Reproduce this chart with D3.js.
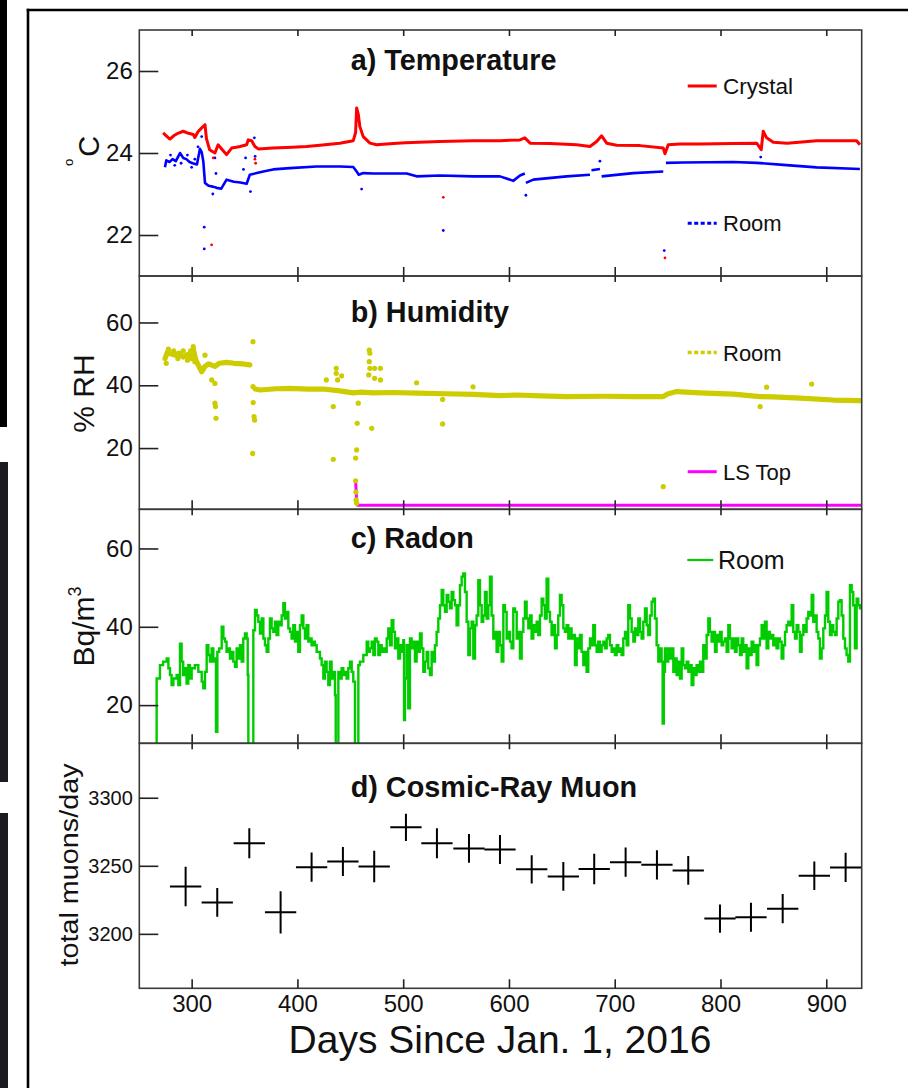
<!DOCTYPE html>
<html><head><meta charset="utf-8">
<script src="https://cdn.jsdelivr.net/npm/d3@7"></script>
<style>body{margin:0;background:#fff}svg{display:block}text{font-family:"Liberation Sans",Arial,Helvetica,sans-serif}</style>
</head><body>
<script>
// ---------------- data ----------------
const xTickValues = [300,400,500,600,700,800,900];
const tempTicks = [22,24,26];
const humTicks = [20,40,60];
const radonTicks = [20,40,60];
const muonTicks = [3200,3250,3300];

const crystalDay = [273,276,279.5,283,287,292,297,301.5,303,306,309,312.6,314,317,320,322,325,329,333,337.8,342,345.7,352,353.5,356.7,359.8,363,377,395,408.7,421.3,440,452.8,455,456,457.5,459,462.2,468.6,475,490.6,502,534.7,566,591.5,610.4,615,620,638.7,664,676.6,682.9,687.6,692.4,701.8,723.9,745.9,747.5,750.6,761.7,780.6,812,834.2,838.5,840.4,843.6,849.9,863,890.9,928.7,931.8];
const crystalTemp = [24.49,24.42,24.34,24.42,24.48,24.53,24.48,24.45,24.38,24.52,24.6,24.69,24.35,24.08,24.03,24.0,24.2,24.08,23.96,24.12,24.14,24.16,24.2,24.32,24.3,24.16,24.1,24.12,24.14,24.16,24.19,24.24,24.3,24.5,25.1,24.95,24.65,24.4,24.24,24.2,24.23,24.25,24.28,24.3,24.3,24.32,24.37,24.24,24.23,24.2,24.16,24.28,24.42,24.24,24.19,24.18,24.12,23.98,24.2,24.22,24.22,24.23,24.24,24.08,24.53,24.37,24.26,24.24,24.3,24.3,24.2];
const crystalOutDay = [318.9,320.4,359.8,360.5,537.9,747.5];
const crystalOutTemp = [21.76,23.88,23.85,23.75,22.92,21.44];

// NaN marks a gap in the record
const roomTDay = [274.8,276,279,282,285,287,289,292,295,298,301,305,307.8,309.5,311,312.6,316,320,323.6,328,333,340,346,352,355,361.5,367.8,377,392.9,418,440.2,452.8,456,458,462.2,471.7,503.3,512.7,534.7,566,591.5,601,604,610.4,615,615.5,616,623,654.5,676.6,677,678,686,687,687.6,717.5,745.9,747,748.4,764.8,812,834.2,859.3,890.9,931.8];
const roomTemp = [23.65,23.82,23.78,23.85,23.8,23.9,24.0,23.88,23.85,23.78,23.75,23.72,24.1,24.02,23.8,23.27,23.2,23.18,23.15,23.13,23.35,23.3,23.28,23.25,23.47,23.51,23.55,23.6,23.63,23.67,23.67,23.66,23.55,23.47,23.51,23.5,23.5,23.43,23.45,23.43,23.43,23.35,23.32,23.45,23.5,NaN,23.27,23.35,23.43,23.47,NaN,23.58,23.61,NaN,23.43,23.51,23.55,NaN,23.76,23.77,23.78,23.76,23.71,23.65,23.61];
const roomTOutDay = [280,284,290,296,300,303,306,311.9,311.9,309.5,320,322,323,349,351,355.6,359.3,360,460.7,537.9,616,686,746.8,838];
const roomTOutTemp = [23.95,23.7,23.75,23.95,23.65,23.85,24.15,22.19,21.66,24.4,23.0,23.88,23.5,23.6,23.88,23.06,24.37,23.92,23.12,22.11,22.97,23.8,21.62,23.9];

const humDay = [274.8,277,280,284,288,292,296,300,301.5,304,306,309.5,312.6,316,322,326,333,340,348,355,357,360,364.6,380,392.9,410,424.4,440,452.8,460,471.7,490,512.7,540,566.2,591.5,607.2,630,654.5,690,717.5,745.9,750,758.5,780.6,812,837.3,850,875.2,906.6,931.8];
const humRoom = [48.5,50.5,50.0,49.6,50.2,49.0,49.8,48.5,51.5,48.0,46.6,44.3,46.0,46.8,46.0,47.0,47.3,47.0,46.8,46.5,NaN,38.8,38.5,38.9,39.0,38.8,38.8,38.2,37.6,37.8,37.6,37.7,37.5,37.3,37.1,36.7,36.9,36.6,36.4,36.5,36.4,36.4,37.2,38.0,37.6,37.2,36.4,36.3,35.9,35.3,35.1];
const humOutDay = [276,278,283,287,292,296,299,303,301.5,312.6,319,322,322,322.5,323,358,358,358.2,359,359.5,357.7,427.3,433.9,433.9,436.7,436.7,438,441.8,457.5,456.5,456,455,455,455.3,455.5,456,467.9,468.5,467.9,468.5,467.5,473,478.5,473,478.5,470.2,512.7,537.3,537.3,566,837.5,843.6,886.2,745.9];
const humOutVal = [47,51.5,51,48.5,51,48,51,47.5,52.3,49.6,41.7,40.6,34.3,33.2,29.5,53.9,39.6,34.5,30,28.9,18.3,41.7,33.2,16.4,45.4,43.8,41.7,43.0,34.3,27.9,19.4,16.8,9.6,6,3.5,2.4,51.2,50.2,47.5,45.4,43.3,45.4,45.4,42.2,41.7,26.3,40.8,35.5,27.7,39.5,33.2,39.4,40.4,7.7];
const lsTopDay = [455,456,457,600,750,933.5];
const lsTopVal = [9.6,3,1.8,1.8,1.8,1.8];

const radonDay = [266.5,266.9,270,273,276.4,278,279.5,281,282.7,285.8,287.4,289,290.5,292,293.7,295.2,296.8,298.4,300,303,306.3,309.5,311,312.6,314.2,315.8,317.3,318.9,320.5,322,323,324.3,326,328.4,330,331.5,333,334.6,336.2,337.8,339.4,341,342.5,344.1,345.7,347.3,348.8,350.4,352,353,353.6,358.3,359.9,361.5,363,364.6,366.2,367.8,369.3,370.9,372.5,374,375.6,377.2,378.8,380.3,381.9,383.5,385.1,386.7,388.2,389.8,391.4,393,394.5,396.1,397.7,399.3,400.8,402.4,404,405.6,407.1,408.7,410.3,411.9,413.4,415,416.6,418.2,421.3,422.9,424.5,426,427.6,429.2,430.8,432.3,433.9,435.5,436.2,438.7,440.2,441.8,443.4,445,446.5,448.1,449.7,451.3,452.8,454.4,457.6,459.1,462.3,465.5,467,468.6,470.2,471.8,473.3,474.9,476.5,478.1,479.7,481.2,482.8,484.4,485.9,487.5,489.1,490.7,492.2,493.8,495.4,497,498.5,500.1,500.8,501.7,503.3,504.8,506.4,508,509.6,511.1,512.7,514.3,515.9,517.4,519,520.6,522.2,523.7,525.3,526.9,528.5,530,531.6,533.2,534.8,536.4,537.9,539.5,541.1,542.7,544.2,545.8,547.4,549,550.5,552.1,553.7,555.3,556.8,558.4,560,561.6,563.1,564.7,566.3,567.9,569.4,571,572.6,574.2,575.7,577.3,578.9,580.5,582,583.6,585.2,586.8,588.3,589.9,591.5,593.1,594.7,596.2,597.8,599.4,601,602.5,604.1,605.7,607.3,608.8,610.4,612,613.6,615.1,616.7,618.3,619.9,621.4,623,624.6,626.2,627.7,629.3,630.9,632.5,634,635.6,637.2,638.8,640.3,641.9,643.5,645.1,646.6,648.2,649.8,651.4,652.9,654.5,656.1,657.7,659.2,660.8,662.4,664,665.5,667.1,668.7,670.3,671.8,673.4,675,676.6,678.1,679.7,681.3,682.9,684.4,686,687.6,689.2,690.8,692.4,693.9,695.5,697.1,698.7,700.2,701.8,703.4,705,706.5,708.1,709.7,711.3,712.8,714.4,716,717.6,719.1,720.7,722.3,723.9,725.4,727,728.6,730.2,731.7,733.3,734.9,736.5,738,739.6,741.2,742.8,744.3,745.3,746.4,747.5,749,750.6,752.2,753.8,755.4,757,758.5,760.1,761.7,763.3,764.8,766.4,768,769.6,771.1,772.7,774.3,775.9,777.4,779,780.6,782.2,783.7,785.3,786.9,788.5,790,791.6,793.2,794.8,796.3,797.9,799.5,801.1,802.6,804.2,805.8,807.4,808.9,810.5,812.1,813.7,815.2,816.8,818.4,820,821.5,823.1,824.7,826.3,827.8,829.4,831,832.6,834.1,835.7,837.3,838.9,840.4,842,843.6,845.2,846.7,848.3,849.9,851.5,853,854.7,856.2,857.8,859.4,861,862.5,864.1,865.7,867.3,868.8,870.4,872,873.6,875.1,876.7,878.3,879.9,881.4,883,884.6,886.2,887.7,889.3,890.9,892.5,894,895.6,897.2,898.8,900.3,901.9,903.5,905.1,906.6,908.2,909.8,911.4,912.9,914.5,916.1,917.7,919.2,920.8,922.4,924,925.5,927.1,928.7,930.3,931.8,933.5];
const radonRoom = [5,26.8,30.2,31.1,31.9,29.4,27.7,25.1,26.8,27.7,25.1,35.7,31.1,27.7,29.4,25.5,30.2,26.8,29.4,30.2,28.5,26.0,24.3,28.5,35.3,32.8,31.1,34.5,31.1,31.9,13.2,33.6,34.5,40.0,37.0,36.2,33.6,34.5,31.9,33.6,31.1,29.8,34.5,31.9,35.3,31.1,37.0,38.3,37.0,27.7,5,39.1,44.3,42.9,41.3,38.3,42.1,37.0,35.3,33.6,37.0,42.1,39.6,38.7,41.3,37.9,41.3,40.4,42.9,46.0,42.1,43.8,39.6,38.7,37.0,40.4,36.2,38.7,33.6,40.4,42.9,39.6,37.0,40.4,36.2,37.0,35.3,36.2,35.3,33.6,31.9,30.2,26.8,31.1,28.5,25.1,31.1,26.8,28.5,22.6,5,28.5,26.8,29.4,27.7,28.5,26.8,29.4,31.1,28.5,26.0,5,30.2,31.1,32.8,36.2,33.6,34.5,36.2,32.8,37.0,36.2,32.8,35.3,33.6,34.5,33.6,37.0,39.6,35.3,41.7,38.7,34.5,37.0,31.9,35.3,33.6,36.6,16.2,26.8,35.3,19.2,37.0,34.5,36.2,31.1,36.2,33.6,38.3,34.5,28.5,31.1,33.6,29.4,27.7,33.6,31.1,35.3,38.7,42.1,45.5,49.4,45.5,43.8,48.1,46.4,44.7,48.9,46.8,45.5,40.4,45.5,50.6,52.8,53.6,48.9,41.3,32.8,39.6,41.3,31.9,40.4,42.9,51.9,45.5,41.3,42.9,48.9,42.1,45.5,52.8,42.9,37.0,38.7,33.6,38.7,35.3,31.1,45.5,43.8,37.0,38.7,36.2,34.5,44.7,43.8,37.0,38.7,31.9,38.7,42.1,46.4,42.1,39.6,42.9,37.0,40.4,38.7,41.3,37.9,42.9,47.2,45.5,42.1,52.3,43.8,41.3,37.9,40.4,34.5,37.9,42.9,48.1,45.5,39.6,38.7,40.4,37.0,39.6,37.0,37.9,30.2,37.0,34.5,37.9,33.6,30.2,33.6,28.5,34.5,37.0,35.3,40.4,35.3,33.6,36.2,33.6,35.3,36.2,34.5,37.0,37.9,35.3,33.6,34.5,32.8,35.3,33.6,34.5,32.8,37.0,38.7,35.3,45.5,42.1,38.7,36.2,39.6,37.9,42.1,38.7,37.0,41.3,44.7,40.4,37.9,42.9,46.4,47.2,42.1,35.3,31.1,34.5,31.1,15.3,28.5,34.5,31.1,34.5,31.9,34.5,28.5,31.9,27.7,31.1,26.8,34.5,30.2,29.4,31.1,28.5,30.2,25.1,29.4,27.7,30.2,28.5,31.1,28.5,35.3,31.9,37.9,42.1,38.7,36.2,38.7,33.6,37.9,36.2,38.7,35.3,36.2,37.0,33.6,40.4,37.0,34.5,37.0,33.6,37.0,35.3,32.8,37.0,33.6,35.3,29.4,34.5,32.8,36.2,33.6,35.3,30.2,35.3,37.0,40.4,37.0,41.3,34.5,38.7,37.0,37.9,35.3,37.0,34.5,37.0,36.2,31.9,35.3,38.7,40.4,41.3,40.4,45.5,38.7,37.0,40.4,38.7,33.6,37.9,40.4,38.7,42.1,43.8,42.9,48.1,41.3,42.9,38.7,37.0,31.9,34.5,39.6,42.9,48.9,41.3,37.9,40.4,38.7,37.9,42.1,46.4,46.8,42.9,37.0,34.5,32.8,31.1,50.6,48.9,45.5,34.5,47.2,45.5,44.7,44.7];

const muonDay = [294.3,324.2,354.5,384.1,413.4,443.0,472.6,502.6,531.9,562.2,591.5,621.5,651.4,680.6,710.3,739.9,769.5,799.5,828.8,858.8,888.7,918.3];
const muonRate = [3234.8,3223.1,3266.6,3215.8,3249.0,3253.2,3249.5,3278.3,3266.6,3262.8,3262.0,3247.4,3242.2,3247.7,3252.7,3250.7,3246.6,3211.2,3212.2,3218.5,3242.7,3248.8];
const muonErr = [14.5,10.6,11,15.5,10.7,10.7,11.6,10,11,10.5,10.6,10.4,10.6,11.2,10.7,10.7,10.6,10.4,10.6,10.7,10.5,10.7];
const muonBinHalf = 14.8;

// ---------------- drawing ----------------
const W = 908, H = 1088;
const L = 139.3, R = 861.7;
const svg = d3.select("body").append("svg").attr("width", W).attr("height", H);
svg.append("rect").attr("width", W).attr("height", H).attr("fill", "#fff");

// page decorations
svg.append("rect").attr("x",0).attr("y",0).attr("width",7).attr("height",427).attr("fill","#000");
svg.append("rect").attr("x",0).attr("y",462).attr("width",8).attr("height",320).attr("fill","#1c1c20");
svg.append("rect").attr("x",0).attr("y",813).attr("width",8).attr("height",275).attr("fill","#1c1c20");
svg.append("line").attr("x1",28).attr("x2",28).attr("y1",8.8).attr("y2",H).attr("stroke","#000").attr("stroke-width",2.6);
svg.append("line").attr("x1",26.7).attr("x2",W).attr("y1",10).attr("y2",10).attr("stroke","#000").attr("stroke-width",2.6);

const x = d3.scaleLinear().domain([250.5, 933.5]).range([L, R]);
const panels = [
  {t:30, b:276, y:d3.scaleLinear().domain([21,27]).range([276,30]), ticks:tempTicks, fs:24},
  {t:276, b:509.3, y:d3.scaleLinear().domain([0.5,74.8]).range([509.3,276]), ticks:humTicks, fs:24},
  {t:509.3, b:743.3, y:d3.scaleLinear().domain([10.25,70]).range([743.3,509.3]), ticks:radonTicks, fs:24},
  {t:743.3, b:988.3, y:d3.scaleLinear().domain([3160,3340]).range([988.3,743.3]), ticks:muonTicks, fs:20}
];
const defs = svg.append("defs");
panels.forEach((p,i)=>{
  defs.append("clipPath").attr("id","clip"+i).append("rect")
    .attr("x",L).attr("y",p.t).attr("width",R-L).attr("height",p.b-p.t);
  p.g = svg.append("g").attr("clip-path",`url(#clip${i})`);
});

const pairs = (a,b) => a.map((d,i)=>[d,b[i]]);

// a) temperature
{
  const p = panels[0];
  const line = d3.line().defined(d=>!isNaN(d[1])).x(d=>x(d[0])).y(d=>p.y(d[1]));
  p.g.append("path").attr("d", line(pairs(roomTDay, roomTemp))).attr("fill","none").attr("stroke","#0000ff").attr("stroke-width",2.6).attr("stroke-linejoin","round");
  p.g.selectAll(".rto").data(pairs(roomTOutDay, roomTOutTemp)).join("circle")
    .attr("cx",d=>x(d[0])).attr("cy",d=>p.y(d[1])).attr("r",1.4).attr("fill","#0000ff");
  p.g.append("path").attr("d", line(pairs(crystalDay, crystalTemp))).attr("fill","none").attr("stroke","#ff0000").attr("stroke-width",3).attr("stroke-linejoin","round");
  p.g.selectAll(".cto").data(pairs(crystalOutDay, crystalOutTemp)).join("circle")
    .attr("cx",d=>x(d[0])).attr("cy",d=>p.y(d[1])).attr("r",1.4).attr("fill","#ff0000");
}
// b) humidity
{
  const p = panels[1];
  const line = d3.line().defined(d=>!isNaN(d[1])).x(d=>x(d[0])).y(d=>p.y(d[1]));
  p.g.append("path").attr("d", line(pairs(lsTopDay, lsTopVal))).attr("fill","none").attr("stroke","#ff00ff").attr("stroke-width",3);
  p.g.append("path").attr("d", line(pairs(humDay, humRoom))).attr("fill","none").attr("stroke","#cccc00").attr("stroke-width",5.2).attr("stroke-linejoin","round").attr("stroke-linecap","round");
  p.g.selectAll(".ho").data(pairs(humOutDay, humOutVal)).join("circle")
    .attr("cx",d=>x(d[0])).attr("cy",d=>p.y(d[1])).attr("r",2.6).attr("fill","#cccc00");
}
// c) radon
{
  const p = panels[2];
  const line = d3.line().curve(d3.curveStepAfter).x(d=>x(d[0])).y(d=>p.y(d[1]));
  p.g.append("path").attr("d", line(pairs(radonDay, radonRoom))).attr("fill","none").attr("stroke","#00cc00").attr("stroke-width",2.4);
}
// d) muons
{
  const p = panels[3];
  const data = muonDay.map((d,i)=>({d, v:muonRate[i], e:muonErr[i]}));
  const gg = p.g.selectAll(".mu").data(data).join("g");
  gg.append("line").attr("x1",d=>x(d.d-muonBinHalf)).attr("x2",d=>x(d.d+muonBinHalf))
    .attr("y1",d=>p.y(d.v)).attr("y2",d=>p.y(d.v)).attr("stroke","#000").attr("stroke-width",2);
  gg.append("line").attr("x1",d=>x(d.d)).attr("x2",d=>x(d.d))
    .attr("y1",d=>p.y(d.v-d.e)).attr("y2",d=>p.y(d.v+d.e)).attr("stroke","#000").attr("stroke-width",2);
}

// axes and frames
panels.forEach((p,i)=>{
  svg.append("rect").attr("x",L).attr("y",p.t).attr("width",R-L).attr("height",p.b-p.t)
    .attr("fill","none").attr("stroke","#3a3a3a").attr("stroke-width",1.6);
  const ya = svg.append("g").attr("transform",`translate(${L},0)`)
    .call(d3.axisLeft(p.y).tickValues(p.ticks).tickSize(-19).tickPadding(6.5).tickFormat(d3.format("d")));
  ya.select(".domain").remove();
  ya.selectAll("line").attr("stroke","#222").attr("stroke-width",1.6);
  ya.selectAll("text").attr("font-size",p.fs).attr("fill","#111").attr("font-family",null);
  const xb = svg.append("g").attr("transform",`translate(0,${p.b})`)
    .call(d3.axisBottom(x).tickValues(xTickValues).tickSize(-9).tickPadding(6.7).tickFormat(i===3?d3.format("d"):()=>""));
  xb.select(".domain").remove();
  xb.selectAll("line").attr("stroke","#222").attr("stroke-width",1.6);
  xb.selectAll("text").attr("font-size",24).attr("fill","#111").attr("font-family",null);
  const xt = svg.append("g").attr("transform",`translate(0,${p.t})`)
    .call(d3.axisTop(x).tickValues(xTickValues).tickSize(-6).tickFormat(()=>""));
  xt.select(".domain").remove();
  xt.selectAll("line").attr("stroke","#222").attr("stroke-width",1.6);
});

// titles
const titles = [["a) Temperature",70],["b) Humidity",321.7],["c) Radon",547.7],["d) Cosmic-Ray Muon",797.3]];
titles.forEach(([t,yb])=>svg.append("text").attr("x",350.7).attr("y",yb).attr("font-size",28.8).attr("font-weight","bold").attr("fill","#111").text(t));

// legends
function legLine(x1,x2,y,color,w,dash){
  const l = svg.append("line").attr("x1",x1).attr("x2",x2).attr("y1",y).attr("y2",y).attr("stroke",color).attr("stroke-width",w);
  if(dash) l.attr("stroke-dasharray",dash);
}
function legText(xx,yb,t,fs){ svg.append("text").attr("x",xx).attr("y",yb).attr("font-size",fs).attr("fill","#111").text(t); }
legLine(687.7,716.7,86,"#ff0000",3);
legText(723,94,"Crystal",22.5);
legLine(687.7,716.7,223.3,"#0000ff",3,"4,2.5");
legText(723,231.2,"Room",22);
legLine(687.7,716.7,352.5,"#cccc00",3.5,"4,2.5");
legText(723,360.5,"Room",22);
legLine(687.7,716.7,471.7,"#ff00ff",3);
legText(723,479.6,"LS Top",22);
legLine(687.3,713.3,560,"#00cc00",2.2);
legText(718,569,"Room",25);

// y-axis titles
{
  const t = svg.append("text").attr("transform","translate(99,166) rotate(-90)").attr("fill","#111");
  t.append("tspan").attr("font-size",13).attr("dy",-26).text("o");
  t.append("tspan").attr("font-size",29).attr("dy",26).attr("dx",2).text("C");
}
svg.append("text").attr("transform","translate(94,393.5) rotate(-90)").attr("text-anchor","middle").attr("font-size",30).attr("fill","#111").text("% RH");
{
  const t = svg.append("text").attr("transform","translate(94,626.5) rotate(-90)").attr("text-anchor","middle").attr("fill","#111").attr("font-size",30);
  t.append("tspan").text("Bq/m");
  t.append("tspan").attr("font-size",18).attr("dy",-13).text("3");
}
svg.append("text").attr("transform","translate(77.5,865) rotate(-90)").attr("text-anchor","middle").attr("font-size",25)
  .attr("textLength",203).attr("lengthAdjust","spacingAndGlyphs").attr("fill","#111").text("total muons/day");

// x-axis title
svg.append("text").attr("x",500).attr("y",1053).attr("text-anchor","middle").attr("font-size",39).attr("fill","#111").text("Days Since Jan. 1, 2016");
</script>
</body></html>
